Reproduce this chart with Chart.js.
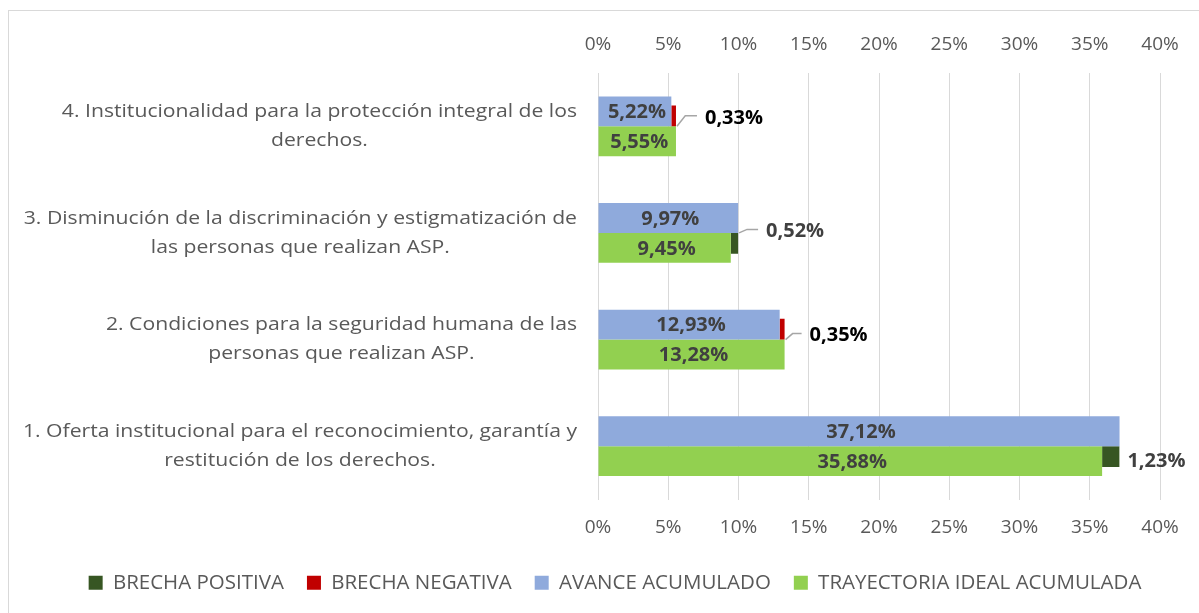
<!DOCTYPE html>
<html>
<head>
<meta charset="utf-8">
<script src="https://cdn.jsdelivr.net/npm/chart.js@4/dist/chart.umd.min.js"></script>
<style>
  html, body { margin: 0; padding: 0; background: #ffffff; }
  #wrap { position: relative; width: 1199px; height: 613px; }
</style>
</head>
<body>
<div id="wrap"><canvas id="c" width="1199" height="613"></canvas></div>
<script>
// ---- data (categories listed top to bottom) ----
const categories = [
  ['4. Institucionalidad para la protección integral de los', 'derechos.'],
  ['3. Disminución de la discriminación y estigmatización de', 'las personas que realizan ASP.'],
  ['2. Condiciones para la seguridad humana de las', 'personas que realizan ASP.'],
  ['1. Oferta institucional para el reconocimiento, garantía y', 'restitución de los derechos.']
];
const avanceAcumulado = [5.22, 9.97, 12.93, 37.12];
const trayectoriaIdeal = [5.55, 9.45, 13.28, 35.88];
const brechaNegativa = [0.33, null, 0.35, null];
const brechaPositiva = [null, 0.52, null, 1.23];
const xTickMin = 0, xTickMax = 40, xTickStep = 5;

// ---- styling (not data) ----
const FONT = "'Open Sans', sans-serif";
const TEXT_GREY = '#595959';
const GRID = '#d9d9d9';
// placement of the gap labels: horizontal offset from bar end, vertical offset from category centre
const gapLabelPlacement = {
  1: [{dx: 29, dy: -9.5, color: '#000000'}, null, {dx: 25, dy: -5, color: '#000000'}, null],
  3: [null, {dx: 28, dy: -2.5, color: '#404040'}, null, {dx: 8, dy: 14, color: '#404040'}]
};

const fmt = v => v.toFixed(2).replace('.', ',') + '%';

const framePlugin = {
  id: 'frame',
  beforeDraw(chart) {
    const ctx = chart.ctx;
    ctx.save();
    ctx.strokeStyle = GRID;
    ctx.lineWidth = 1;
    ctx.strokeRect(8.5, 10.5, 1300, 700);
    ctx.restore();
  }
};

// gap bars are thinner and sit against the boundary between the two bars of a category
const gapShiftPlugin = {
  id: 'gapShift',
  afterDatasetsUpdate(chart) {
    chart.data.datasets.forEach((ds, i) => {
      if (!ds.shiftDir) return;
      const meta = chart.getDatasetMeta(i);
      meta.data.forEach(el => {
        const slot = el.height / ds.barPercentage;
        el.y += ds.shiftDir * (slot - el.height) / 2;
      });
    });
  }
};

// category labels: block right-aligned against the axis, lines centred within the block
const yLabelPlugin = {
  id: 'ylabels',
  afterDraw(chart) {
    const ctx = chart.ctx;
    const ys = chart.scales.y;
    const sx = 1.114;
    const lineGap = 29;
    const right = chart.chartArea.left - 21;
    ctx.save();
    ctx.font = "19px " + FONT;
    ctx.fillStyle = TEXT_GREY;
    ctx.textAlign = 'center';
    ctx.textBaseline = 'middle';
    chart.data.labels.forEach((lines, i) => {
      const cy = ys.getPixelForValue(i);
      const maxW = Math.max(...lines.map(l => ctx.measureText(l).width * sx));
      const cx = right - maxW / 2;
      lines.forEach((l, k) => {
        const y = cy + (k - (lines.length - 1) / 2) * lineGap;
        ctx.save();
        ctx.translate(cx, y);
        ctx.scale(sx, 1);
        ctx.fillText(l, 0, 0);
        ctx.restore();
      });
    });
    ctx.restore();
  }
};

const labelPlugin = {
  id: 'labels',
  afterDatasetsDraw(chart) {
    const ctx = chart.ctx;
    const yScale = chart.scales.y;
    ctx.save();
    ctx.font = "bold 20px " + FONT;
    ctx.textBaseline = 'middle';
    // centred labels on main bars
    [0, 2].forEach(di => {
      const meta = chart.getDatasetMeta(di);
      const data = chart.data.datasets[di].data;
      meta.data.forEach((el, j) => {
        if (data[j] == null) return;
        ctx.fillStyle = '#404040';
        ctx.textAlign = 'center';
        ctx.fillText(fmt(data[j]), (el.x + el.base) / 2 + 2, el.y + 1);
      });
    });
    // gap labels
    [1, 3].forEach(di => {
      const meta = chart.getDatasetMeta(di);
      const data = chart.data.datasets[di].data;
      meta.data.forEach((el, j) => {
        if (data[j] == null) return;
        const p = gapLabelPlacement[di][j];
        const cy = yScale.getPixelForValue(j);
        const lx = el.x + p.dx;
        const ly = cy + p.dy;
        if (p.dx > 15) {
          ctx.strokeStyle = '#a6a6a6';
          ctx.lineWidth = 1.5;
          ctx.beginPath();
          ctx.moveTo(el.x + 1, cy);
          ctx.lineTo(el.x + p.dx * 0.32, ly - 1);
          ctx.lineTo(lx - 8, ly - 1);
          ctx.stroke();
        }
        ctx.fillStyle = p.color;
        ctx.textAlign = 'left';
        ctx.fillText(fmt(data[j]), lx, ly + 1);
      });
    });
    ctx.restore();
  }
};

const legendOrder = [3, 1, 0, 2];

new Chart(document.getElementById('c'), {
  type: 'bar',
  data: {
    labels: categories,
    datasets: [
      { label: 'AVANCE ACUMULADO', data: avanceAcumulado, backgroundColor: '#8faadc', stack: 'a', barPercentage: 1, categoryPercentage: 0.56 },
      { label: 'BRECHA NEGATIVA', data: brechaNegativa, backgroundColor: '#c00000', stack: 'a', barPercentage: 0.7, categoryPercentage: 0.56, shiftDir: 1 },
      { label: 'TRAYECTORIA IDEAL ACUMULADA', data: trayectoriaIdeal, backgroundColor: '#92d050', stack: 'b', barPercentage: 1, categoryPercentage: 0.56 },
      { label: 'BRECHA POSITIVA', data: brechaPositiva, backgroundColor: '#375623', stack: 'b', barPercentage: 0.7, categoryPercentage: 0.56, shiftDir: -1 }
    ]
  },
  options: {
    indexAxis: 'y',
    responsive: false,
    animation: false,
    events: [],
    layout: { padding: { left: 31, right: 0, top: 21, bottom: 10 } },
    font: { family: FONT },
    scales: {
      x: {
        type: 'linear',
        position: 'bottom',
        stacked: true,
        min: xTickMin, max: xTickMax,
        grid: { color: GRID, lineWidth: 1, drawTicks: false },
        border: { display: false },
        ticks: { stepSize: xTickStep, color: TEXT_GREY, padding: 17, font: { family: FONT, size: 19 }, callback: v => v + '%' },
        afterFit(s) { s.height = 50; }
      },
      x2: {
        type: 'linear',
        position: 'top',
        min: xTickMin, max: xTickMax,
        grid: { display: false, drawTicks: false },
        border: { display: false },
        ticks: { stepSize: xTickStep, color: TEXT_GREY, padding: 17, font: { family: FONT, size: 19 }, callback: v => v + '%' },
        afterFit(s) { s.height = 52; }
      },
      y: {
        grid: { display: false, drawTicks: false },
        border: { display: false },
        ticks: { display: false },
        afterFit(s) { s.width = 567; }
      },
      yRight: {
        type: 'category',
        position: 'right',
        grid: { display: false, drawTicks: false },
        border: { display: false },
        ticks: { display: false },
        afterFit(s) { s.width = 39; }
      }
    },
    plugins: {
      tooltip: { enabled: false },
      legend: {
        position: 'bottom',
        labels: {
          color: TEXT_GREY,
          font: { family: FONT, size: 20.5 },
          boxWidth: 14, boxHeight: 14,
          padding: 23,
          sort: (a, b) => legendOrder.indexOf(a.datasetIndex) - legendOrder.indexOf(b.datasetIndex)
        }
      }
    }
  },
  plugins: [framePlugin, gapShiftPlugin, labelPlugin, yLabelPlugin]
});
</script>
</body>
</html>
